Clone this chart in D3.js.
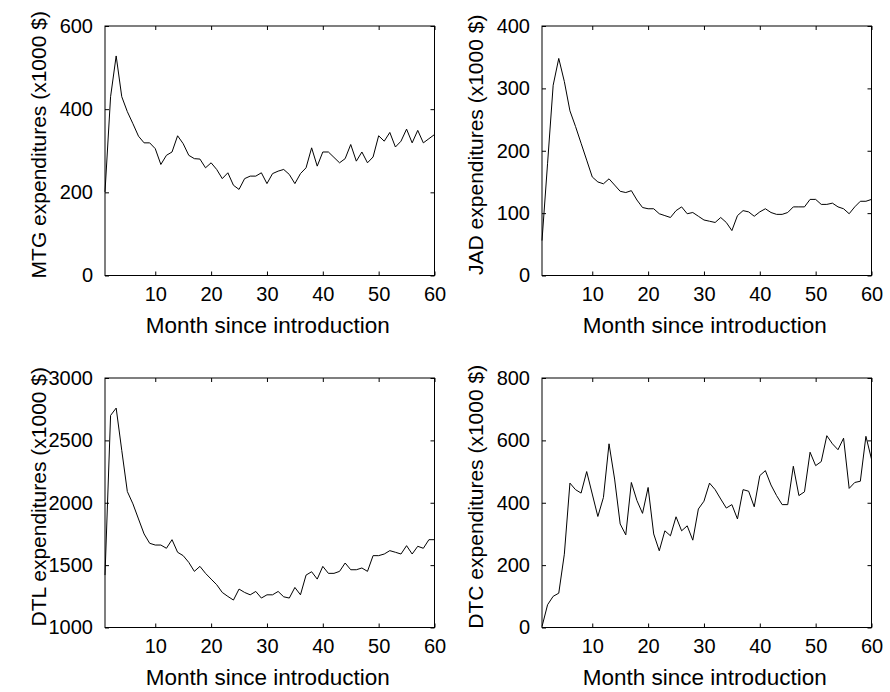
<!DOCTYPE html>
<html>
<head>
<meta charset="utf-8">
<script src="https://cdn.jsdelivr.net/npm/d3@7"></script>
<style>
  body { margin: 0; background: #fff; }
  svg { display: block; font-family: "Liberation Sans", Arial, sans-serif; }
  .tick line { stroke: #000; }
  .tick text { fill: #000; }
</style>
</head>
<body>
<svg id="chart" width="890" height="692"></svg>
<script>
// Monthly expenditures (x1000 $) for months 1..60 after introduction
const months = d3.range(1, 61);

const mtg = [201, 430, 528, 430, 394, 365, 335, 319, 319, 305,
             267, 289, 297, 336, 317, 289, 281, 280, 259, 271,
             255, 233, 247, 217, 207, 233, 239, 239, 247, 221,
             245, 251, 255, 243, 221, 245, 259, 307, 263, 297,
             297, 284, 271, 281, 315, 275, 297, 271, 285, 336,
             323, 344, 309, 323, 352, 319, 349, 319, 329, 339];

const jad = [56, 180, 305, 348, 311, 264, 239, 212, 185, 158,
             150, 147, 155, 145, 135, 133, 136, 121, 109, 107,
             107, 99, 96, 93, 104, 110, 99, 101, 95, 89,
             87, 85, 93, 85, 72, 96, 104, 102, 95, 102,
             107, 101, 98, 98, 101, 110, 110, 110, 122, 122,
             114, 114, 116, 110, 107, 99, 110, 119, 119, 122];

const dtl = [1420, 2700, 2759, 2420, 2090, 1991, 1870, 1750, 1675, 1661,
             1661, 1635, 1704, 1603, 1576, 1522, 1450, 1490, 1434, 1388,
             1343, 1281, 1249, 1220, 1308, 1281, 1262, 1289, 1236, 1262,
             1262, 1289, 1246, 1236, 1321, 1262, 1420, 1447, 1388, 1490,
             1434, 1434, 1450, 1517, 1463, 1463, 1477, 1450, 1576, 1576,
             1589, 1616, 1603, 1589, 1656, 1589, 1651, 1635, 1704, 1704];

const dtc = [3, 73, 100, 110, 235, 463, 442, 431, 500, 428,
             356, 417, 589, 476, 332, 297, 465, 407, 366, 449,
             300, 246, 310, 294, 355, 310, 326, 280, 380, 405,
             463, 442, 412, 383, 394, 348, 442, 437, 387, 487,
             503, 457, 423, 394, 394, 517, 423, 435, 562, 519,
             532, 615, 589, 570, 607, 446, 465, 469, 613, 540];

const xTicks = [10, 20, 30, 40, 50, 60];
const xLabel = "Month since introduction";

const panels = [
  { name: "MTG", values: mtg, domain: [0, 600],    ticks: [0, 200, 400, 600],              left: 105, top: 26 },
  { name: "JAD", values: jad, domain: [0, 400],    ticks: [0, 100, 200, 300, 400],         left: 542, top: 26 },
  { name: "DTL", values: dtl, domain: [1000, 3000], ticks: [1000, 1500, 2000, 2500, 3000], left: 105, top: 378 },
  { name: "DTC", values: dtc, domain: [0, 800],    ticks: [0, 200, 400, 600, 800],         left: 542, top: 378 }
];

const W = 329.5, H = 249.5;
const FS = 20;
const svg = d3.select("#chart");

panels.forEach(p => {
  const g = svg.append("g").attr("transform", `translate(${p.left},${p.top})`);
  const x = d3.scaleLinear().domain([1, 60]).range([0, W]);
  const y = d3.scaleLinear().domain(p.domain).range([H, 0]);

  // Data line
  g.append("path")
    .datum(months.map((m, i) => [m, p.values[i]]))
    .attr("fill", "none")
    .attr("stroke", "#000")
    .attr("stroke-width", 1)
    .attr("d", d3.line().x(d => x(d[0])).y(d => y(d[1])));

  // Axes with inward ticks on all four sides
  const ax = (axis, tr, labels) => {
    const a = g.append("g").attr("transform", tr).call(axis);
    a.select(".domain").remove();
    a.selectAll("text").style("font-size", FS + "px");
    if (!labels) a.selectAll("text").remove();
    return a;
  };
  const fmt = d3.format("d");
  ax(d3.axisBottom(x).tickValues(xTicks).tickFormat(fmt).tickSize(-4).tickSizeOuter(0).tickPadding(11), `translate(0,${H})`, true);
  ax(d3.axisTop(x).tickValues(xTicks).tickSize(-4).tickSizeOuter(0), "translate(0,0)", false);
  ax(d3.axisLeft(y).tickValues(p.ticks).tickFormat(fmt).tickSize(-4).tickSizeOuter(0).tickPadding(12), "translate(0,0)", true);
  ax(d3.axisRight(y).tickValues(p.ticks).tickSize(-4).tickSizeOuter(0), `translate(${W},0)`, false);

  // Box
  g.append("rect")
    .attr("x", 0).attr("y", 0).attr("width", W).attr("height", H)
    .attr("fill", "none").attr("stroke", "#000").attr("stroke-width", 1);

  // Axis titles
  g.append("text")
    .attr("x", W / 2 - 2).attr("y", H + 57)
    .attr("text-anchor", "middle")
    .style("font-size", "22.5px")
    .text(xLabel);

  g.append("text")
    .attr("transform", `translate(-59,${H / 2 - 6}) rotate(-90)`)
    .attr("text-anchor", "middle")
    .style("font-size", "21px")
    .text(`${p.name} expenditures (x1000 $)`);
});
</script>
</body>
</html>
